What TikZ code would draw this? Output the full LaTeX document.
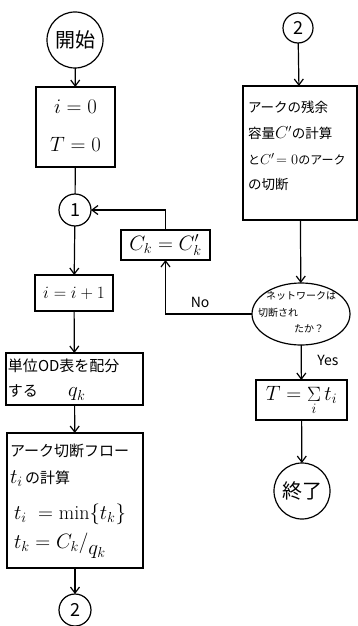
\documentclass[tikz,border=0pt]{standalone}
\usepackage{fontspec}
\newfontfamily\jp{Noto Sans CJK JP}
\usetikzlibrary{arrows.meta,shapes.geometric}
\newcommand\Mth[2][21]{{\fontsize{#1}{#1}\selectfont$#2$}}
\begin{document}
\begin{tikzpicture}[x=1pt,y=-1pt,
  every node/.style={inner sep=0pt,outer sep=0pt},
  ln/.style={line width=1.2pt},
  arr/.style={ln,-{Straight Barb[length=6pt,width=9pt,line width=1.2pt]}},
  boxn/.style={draw,ln,rectangle},
  circn/.style={draw,ln,circle},
  txt/.style={font=\jp\fontsize{15}{26}\selectfont},
  rtxt/.style={font=\jp\fontsize{13.5}{20}\selectfont},
  etxt/.style={font=\jp\fontsize{10}{12}\selectfont},
  dtxt/.style={font=\jp\fontsize{18}{20}\selectfont},
  btxt/.style={font=\jp\fontsize{20}{22}\selectfont},
  ytxt/.style={font=\jp\fontsize{14}{16}\selectfont}
]
\useasboundingbox (0,0) rectangle (358,626);
% left column
\node[circn,minimum size=56pt,btxt] (start) at (75,40) {開始};
\node[boxn,minimum width=79pt,minimum height=80pt] (init) at (75.5,127) {};
\node (initA) at (75.5,107) {\Mth[22]{i = 0}};
\node (initB) at (75.5,144) {\Mth[22]{T = 0}};
\node[circn,minimum size=32pt,dtxt] (c1) at (75,210) {1};
\node[boxn,minimum width=78pt,minimum height=36pt] (inc) at (74,293) {\Mth[18]{i = i + 1}};
\node[boxn,minimum width=137pt,minimum height=52pt] (od) at (74.5,379) {};
\node[txt,anchor=west] (odA) at (8,366) {単位OD表を配分};
\node[txt,anchor=west] (odB) at (8,393) {する\hspace{30pt}\Mth[20]{q_k}};
\node[boxn,minimum width=136pt,minimum height=135pt] (flow) at (75,500.5) {};
\node[txt,anchor=west] (flA) at (10,451) {アーク切断フロー};
\node[txt,anchor=west] (flB) at (10,479) {\Mth[20]{t_i}\,の計算};
\node[txt,anchor=west] (flC) at (14,514) {\Mth[20]{t_i\;=\min\{t_k\}}};
\node[txt,anchor=west] (flD) at (14,546) {\Mth[20]{t_k = C_k\big/\lower6pt\hbox{$q_k$}}};
\node[circn,minimum size=32pt,dtxt] (c2b) at (75,610) {2};
\node[boxn,minimum width=89pt,minimum height=30pt] (ck) at (165.5,245) {\Mth[21]{C_k = C'_k}};
% right column
\node[circn,minimum size=30pt,dtxt] (c2t) at (298,28) {2};
\node[boxn,minimum width=114pt,minimum height=134pt] (resid) at (300,153) {};
\node[rtxt,anchor=west] (rsA) at (248,107) {アークの残余};
\node[rtxt,anchor=west] (rsB) at (248,133) {容量\Mth[16]{C'}の計算};
\node[rtxt,anchor=west,font=\jp\fontsize{12}{14}\selectfont] (rsC) at (248,159) {と\Mth[15]{C'\!=0}のアーク};
\node[rtxt,anchor=west] (rsD) at (248,184) {の切断};
\node[draw,ln,ellipse,minimum width=98pt,minimum height=62pt] (dec) at (301,314) {};
\node[etxt,anchor=west] (decA) at (266,296) {ネットワークは};
\node[etxt,anchor=west] (decB) at (258,313) {切断され};
\node[etxt,anchor=west] (decC) at (294,329) {たか？};
\node[boxn,minimum width=91pt,minimum height=40pt] (sum) at (301.5,400) {\Mth[20]{T = \mathop{\Sigma}\limits_i t_i}};
\node[circn,minimum size=56pt,btxt] (end) at (302,491) {終了};
% connectors
\draw[arr] (start) -- (init);
\draw[ln] (init) -- (c1);
\draw[arr] (c1) -- (inc);
\draw[arr] (inc) -- (od);
\draw[arr] (od) -- (flow);
\draw[arr] (flow) -- (c2b);
\draw[arr] (c2t) -- (resid);
\draw[arr] (resid) -- (dec);
\draw[arr] (dec) -- node[pos=0.45,right=16pt,ytxt] (yes) {Yes} (sum);
\draw[arr] (sum) -- (end);
\draw[arr] (dec.west) -| node[pos=0.3,above=6pt,ytxt] (no) {No} (ck.south);
\draw[arr] (ck.north) |- (c1.east);
\end{tikzpicture}
\end{document}
